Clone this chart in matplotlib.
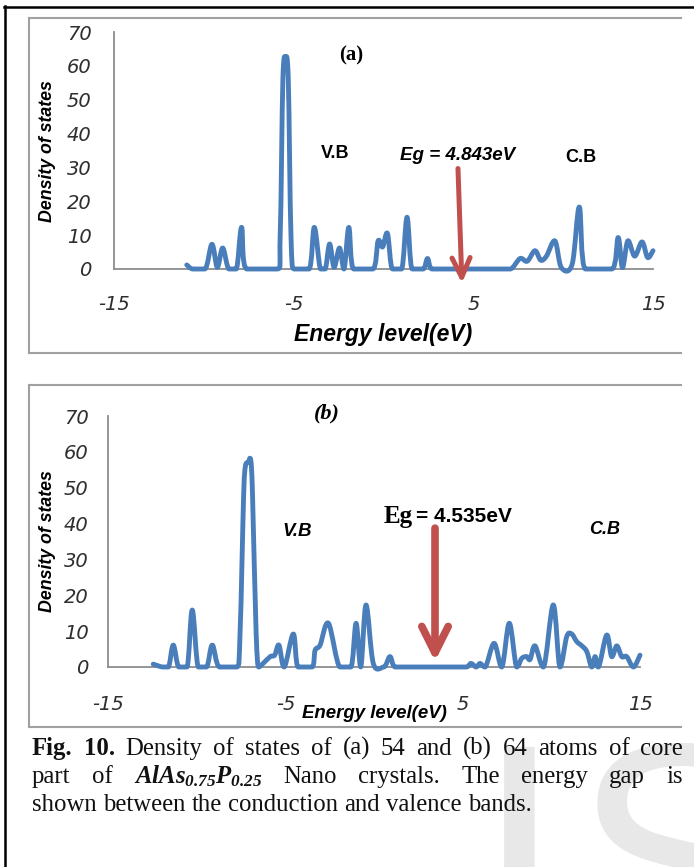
import matplotlib.pyplot as plt
import numpy as np
from matplotlib.path import Path
from matplotlib.patches import PathPatch
from matplotlib.lines import Line2D

# (a) 54 atoms
energy_a = [-10.95, -10.6, -9.95, -9.55, -9.25, -8.95, -8.6, -8.2, -7.9, -7.6,
            -5.95, -5.75, -5.6, -5.45, -5.3, -5.15, -4.95, -4.15, -3.85, -3.5,
            -3.25, -3.0, -2.75, -2.45, -2.2, -1.93, -1.65, -0.6, -0.3, -0.05,
            0.22, 0.5, 1.0, 1.31, 1.6, 2.2, 2.45, 2.7, 3.5, 6.5,
            7.05, 7.6, 8.0, 8.43, 8.75, 9.07, 9.54, 9.9, 10.5, 10.9,
            11.25, 12.7, 13.06, 13.3, 13.6, 13.98, 14.39, 14.7, 15.0]
dos_a = [1.2, 0, 0, 7.3, 0.5, 6.2, 0, 0, 12.3, 0,
         0, 10, 56, 62.5, 56, 10, 0, 0, 12.3, 0,
         0, 7.4, 0.5, 6.2, 0, 12.3, 0, 0, 8.3, 6.5,
         10.5, 0, 0, 15.3, 0, 0, 3.1, 0, 0, 0,
         0, 3.1, 2.3, 5.4, 2.6, 3.8, 8.3, 0.4, 1.4, 18.3,
         0, 0, 9.3, 0.4, 8.3, 3.8, 8.0, 3.4, 5.4]

# (b) 64 atoms
energy_b = [-12.45, -11.9, -11.6, -11.32, -11.0, -10.55, -10.25, -9.9, -9.45, -9.12,
            -8.7, -7.75, -7.55, -7.35, -7.25, -7.1, -6.95, -6.85, -6.65, -6.5,
            -6.25, -5.85, -5.6, -5.36, -5.07, -4.55, -4.27, -3.5, -3.32, -3.04,
            -2.57, -1.91, -1.31, -1.01, -0.75, -0.45, -0.04, 0.55, 0.9, 1.2,
            2.0, 4.5, 5.2, 5.47, 5.76, 5.98, 6.26, 6.77, 7.2, 7.63,
            8.05, 8.33, 8.61, 8.8, 9.08, 9.55, 10.11, 10.49, 10.87, 11.15,
            11.43, 11.72, 12.0, 12.28, 12.47, 12.65, 13.12, 13.4, 13.69, 13.97,
            14.25, 14.63, 15.0]
dos_b = [0.8, 0, 0, 6.1, 0, 0, 15.9, 0, 0, 6.1,
         0, 0, 10, 48, 56, 57, 57.7, 48, 10, 0,
         1, 2.9, 3.3, 6.1, 0, 9.2, 0, 0, 4.7, 6.1,
         12.2, 0, 0, 12.2, 0, 17.3, 1, 0, 2.9, 0,
         0, 0, 0, 1, 0, 1, 0, 6.6, 0, 12.2,
         0, 2.4, 2.9, 2.1, 5.9, 0, 17.3, 0, 8.5, 9.2,
         7.1, 5.9, 4.3, 0, 2.9, 0, 8.9, 2.9, 5.9, 2.9,
         2.9, 0, 3.3]

xticks = [-15, -5, 5, 15]
yticks = [0, 10, 20, 30, 40, 50, 60, 70]

W, H = 694, 867
BLUE = '#4a7ebb'
RED = '#c0504d'
GRAY = '#8c8c8c'

plt.rcParams['axes.unicode_minus'] = False
plt.rcParams['mathtext.fontset'] = 'custom'
for k in ['mathtext.rm', 'mathtext.it', 'mathtext.bf']:
    plt.rcParams[k] = 'Liberation Serif:italic:bold'

fig = plt.figure(figsize=(W / 100, H / 100), dpi=100)


def fx(x):
    return x / W


def fy(y):
    return 1 - y / H


def smooth_path(x, y):
    # Excel-like smoothed line; flat tangents on the baseline
    pts = np.column_stack([x, y]).astype(float)
    n = len(pts)
    tang = []
    for i in range(n):
        t = (pts[min(i + 1, n - 1)] - pts[max(i - 1, 0)]) / 2
        if pts[i, 1] == 0:
            t[1] = 0
        tang.append(t)
    verts = [pts[0]]
    codes = [Path.MOVETO]
    for i in range(n - 1):
        verts += [pts[i] + tang[i] / 3, pts[i + 1] - tang[i + 1] / 3, pts[i + 1]]
        codes += [Path.CURVE4] * 3
    return Path(verts, codes)


TICKFONT = dict(family='DejaVu Sans', style='italic', size=14, color='#2e2e2e')


def setup_axes(ax, ypad, xpad):
    ax.set_xlim(-15, 15)
    ax.set_ylim(0, 70)
    ax.set_xticks(xticks, [str(v) for v in xticks], **TICKFONT)
    ax.set_yticks(yticks, [str(v) for v in yticks], **TICKFONT)
    for s in ['top', 'right']:
        ax.spines[s].set_visible(False)
    for s in ['left', 'bottom']:
        ax.spines[s].set_color(GRAY)
        ax.spines[s].set_linewidth(1.3)
    ax.tick_params(length=0)
    ax.tick_params(axis='y', pad=ypad)
    ax.tick_params(axis='x', pad=xpad)
    ax.patch.set_alpha(0)


# outer black border
fig.add_artist(Line2D([fx(4), 1], [fy(7), fy(7)], color='black', lw=1.8))
fig.add_artist(Line2D([fx(4.5), fx(4.5)], [fy(6), 0], color='black', lw=1.8))

# gray panel frames
for top, bot in [(18, 353), (385, 727)]:
    fig.add_artist(Line2D([fx(29), fx(681)], [fy(top), fy(top)], color='#a0a0a0', lw=1.5))
    fig.add_artist(Line2D([fx(29), fx(681)], [fy(bot), fy(bot)], color='#a0a0a0', lw=1.5))
    fig.add_artist(Line2D([fx(29), fx(29)], [fy(top), fy(bot)], color='#a0a0a0', lw=1.5))

SANS = 'Liberation Sans'
SERIF = 'Liberation Serif'

# ---- panel (a)
ax_a = fig.add_axes([fx(114), fy(269), (653 - 114) / W, (269 - 32) / H])
setup_axes(ax_a, 16, 19)
ax_a.add_patch(PathPatch(smooth_path(energy_a, dos_a), fill=False, ec=BLUE, lw=3.5,
                         joinstyle='round', capstyle='round', clip_on=False, zorder=3))
ax_a.annotate('', xy=(4.37, -5), xytext=(4.14, 30.5), annotation_clip=False,
              arrowprops=dict(arrowstyle='->,head_length=14,head_width=6.5',
                              mutation_scale=1, lw=3.6, color=RED,
                              capstyle='round', joinstyle='round'), zorder=4)

fig.text(fx(351), fy(55), '(a)', family=SERIF, weight='bold',
         fontsize=15, ha='center', va='center')
fig.text(fx(335), fy(153), 'V.B', family=SANS, weight='bold',
         fontsize=13, ha='center', va='center')
fig.text(fx(458), fy(155), 'Eg = 4.843eV', family=SANS, weight='bold',
         style='italic', fontsize=13.5, ha='center', va='center')
fig.text(fx(581), fy(158), 'C.B', family=SANS, weight='bold',
         fontsize=13, ha='center', va='center')
fig.text(fx(383), fy(335), 'Energy level(eV)', family=SANS, weight='bold',
         style='italic', fontsize=16.5, ha='center', va='center')
fig.text(fx(48), fy(151), 'Density of states', family=SANS, weight='bold',
         style='italic', fontsize=12.8, ha='center', va='center', rotation=90)

# ---- panel (b)
ax_b = fig.add_axes([fx(108), fy(667), (640 - 108) / W, (667 - 416) / H])
setup_axes(ax_b, 14, 20)
ax_b.add_patch(PathPatch(smooth_path(energy_b, dos_b), fill=False, ec=BLUE, lw=3.5,
                         joinstyle='round', capstyle='round', clip_on=False, zorder=3))
ax_b.annotate('', xy=(3.44, 0.8), xytext=(3.44, 39.5), annotation_clip=False,
              arrowprops=dict(arrowstyle='->,head_length=19,head_width=9.5',
                              mutation_scale=1, lw=5.5, color=RED,
                              capstyle='round', joinstyle='round'), zorder=4)

fig.text(fx(327), fy(413), '(b)', family=SERIF, weight='bold',
         style='italic', fontsize=16, ha='center', va='center')
fig.text(fx(297), fy(531), 'V.B', family=SANS, weight='bold',
         style='italic', fontsize=13.5, ha='center', va='center')
fig.text(fx(413), fy(516), 'Eg', family=SERIF, weight='bold',
         fontsize=18, ha='right', va='center')
fig.text(fx(416), fy(516), '= 4.535eV', family=SANS, weight='bold',
         fontsize=15, ha='left', va='center')
fig.text(fx(605), fy(529), 'C.B', family=SANS, weight='bold',
         style='italic', fontsize=13, ha='center', va='center')
fig.text(fx(374), fy(714), 'Energy level(eV)', family=SANS, weight='bold',
         style='italic', fontsize=13.4, ha='center', va='center')
fig.text(fx(48), fy(541), 'Density of states', family=SANS, weight='bold',
         style='italic', fontsize=12.8, ha='center', va='center', rotation=90)

# watermark
fig.text(fx(519), fy(735), 'I', family=SANS, fontsize=235,
         color='#e8e8e8', ha='center', va='top', zorder=0)
fig.text(fx(680), fy(735), 'S', family=SANS, fontsize=235,
         color='#e8e8e8', ha='center', va='top', zorder=0)

# caption, justified like the paper
CAP = dict(family=SERIF, fontsize=17.8, color='#111111')
BOLD = dict(CAP, weight='bold')
line1 = [('Fig.', BOLD), ('10.', BOLD)] + [(w, CAP) for w in
         'Density of states of (a) 54 and (b) 64 atoms of core'.split()]
line2 = [('part', CAP), ('of', CAP), (r'$AlAs_{0.75}P_{0.25}$', CAP)] + [(w, CAP) for w in
         'Nano crystals. The energy gap is'.split()]
line3 = [(w, CAP) for w in 'shown between the conduction and valence bands.'.split()]

renderer = fig.canvas.get_renderer()
probe1 = fig.text(0, 0, 'a b', **CAP)
probe2 = fig.text(0, 0, 'ab', **CAP)
space = probe1.get_window_extent(renderer).width - probe2.get_window_extent(renderer).width
probe1.remove()
probe2.remove()


def place_line(words, base_y, x0=32, x1=683, justify=True):
    objs = [fig.text(0, fy(base_y), w, va='baseline', zorder=2, **kw) for w, kw in words]
    widths = [o.get_window_extent(renderer).width for o in objs]
    gap = (x1 - x0 - sum(widths)) / (len(objs) - 1) if justify else space
    x = x0
    for o, w in zip(objs, widths):
        o.set_x(fx(x))
        x += w + gap


place_line(line1, 755)
place_line(line2, 783)
place_line(line3, 811, justify=False)

fig.savefig('out.png', dpi=100)
